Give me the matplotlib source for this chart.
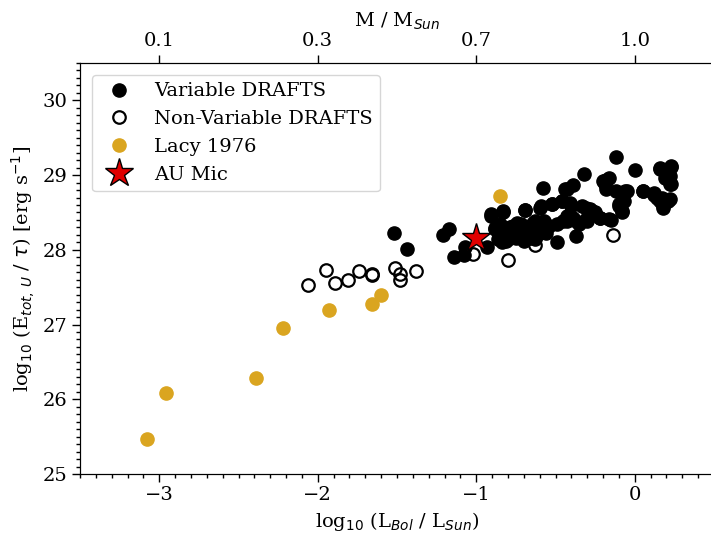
import matplotlib
matplotlib.use('Agg')
import matplotlib.pyplot as plt
from matplotlib.ticker import MultipleLocator
import numpy as np

# log10(L_bol/L_sun) and log10(E_tot,U / tau)
var_lbol = [-1.52, -1.44, -1.21, -1.17, -1.14, -1.08, -1.07, -0.93, -0.91, -0.83,
            -0.88, -0.84, -0.79, -0.74, -0.68, -0.69, -0.63, -0.58, -0.60, -0.57,
            -0.52, -0.49, -0.46, -0.43, -0.39, -0.40, -0.43, -0.32, -0.37, -0.31,
            -0.27, -0.30, -0.22, -0.20, -0.16, -0.18, -0.12, -0.06, -0.15, -0.10,
            -0.07, -0.08, -0.12, 0.00, 0.05, 0.12, 0.16, 0.23, 0.19, 0.23,
            0.16, 0.21, 0.18, 0.14,
            -0.88, -0.85, -0.81, -0.77, -0.72, -0.68, -0.64, -0.61, -0.57, -0.54,
            -0.49, -0.45, -0.43, -0.39, -0.37, -0.35, -0.30, -0.86, -0.79, -0.75,
            -0.68, -0.63, -0.56, -0.44, -0.18, -0.19, -0.05, -0.10, -0.08, 0.05,
            0.12, 0.17, 0.20, 0.22, 0.18, 0.16, 0.23, 0.22, 0.22, -0.91,
            -0.83, -0.69, -0.59, -0.52, -0.46, -0.41, -0.33, -0.28, -0.25, -0.22,
            -0.16, -0.81, -0.75, -0.70, -0.66, -0.61]
var_etot = [28.23, 28.01, 28.20, 28.28, 27.91, 27.93, 28.04, 28.04, 28.45, 28.51,
            28.29, 28.10, 28.30, 28.36, 28.28, 28.53, 28.38, 28.83, 28.56, 28.30,
            28.61, 28.10, 28.65, 28.81, 28.87, 28.59, 28.39, 29.01, 28.19, 28.56,
            28.52, 28.39, 28.43, 28.92, 28.96, 28.81, 28.79, 28.79, 28.40, 28.61,
            28.65, 28.50, 29.24, 29.07, 28.79, 28.74, 29.10, 29.11, 28.96, 28.88,
            28.65, 28.65, 28.56, 28.70,
            28.28, 28.34, 28.25, 28.32, 28.34, 28.30, 28.36, 28.28, 28.39, 28.32,
            28.34, 28.39, 28.45, 28.43, 28.39, 28.34, 28.43, 28.14, 28.16, 28.19,
            28.19, 28.14, 28.23, 28.81, 28.94, 28.88, 28.79, 28.59, 28.52, 28.79,
            28.76, 28.70, 28.65, 28.68, 28.59, 29.08, 29.12, 28.88, 28.99, 28.48,
            28.52, 28.53, 28.59, 28.61, 28.65, 28.63, 28.59, 28.54, 28.50, 28.43,
            28.41, 28.12, 28.16, 28.12, 28.16, 28.21]

nonvar_lbol = [-2.06, -1.95, -1.89, -1.81, -1.74, -1.66, -1.66, -1.51, -1.48, -1.48,
               -1.38, -0.80, -0.14, -0.63, -1.02]
nonvar_etot = [27.53, 27.73, 27.55, 27.60, 27.71, 27.68, 27.66, 27.76, 27.68, 27.60,
               27.71, 27.86, 28.20, 28.06, 27.94]

lacy_lbol = [-3.08, -2.96, -2.39, -2.22, -1.93, -1.66, -1.60, -0.85]
lacy_etot = [25.47, 26.09, 26.28, 26.95, 27.20, 27.27, 27.40, 28.72]

aumic_lbol = [-1.00]
aumic_etot = [28.16]

mass_ticks = [-3, -2, -1, 0]
mass_labels = ['0.1', '0.3', '0.7', '1.0']

plt.rcParams['font.family'] = 'DejaVu Serif'
plt.rcParams['font.size'] = 14

fig = plt.figure(figsize=(7.11, 5.37), dpi=100)
ax = fig.add_axes([80/711., 63/537., 634/711., 411/537.])

ax.plot(var_lbol, var_etot, 'o', color='k', ms=9.5, zorder=3, label='Variable DRAFTS')
ax.plot(nonvar_lbol, nonvar_etot, 'o', mfc='none', mec='k', mew=1.6, ms=9,
        zorder=2, label='Non-Variable DRAFTS')
ax.plot(lacy_lbol, lacy_etot, 'o', color='goldenrod', ms=9.5, zorder=4, label='Lacy 1976')
ax.plot(aumic_lbol, aumic_etot, '*', mfc='#e00000', mec='k', mew=1.0, ms=21,
        zorder=5, label='AU Mic')

ax.set_xlim(-3.5, 0.5)
ax.set_ylim(25, 30.5)
ax.xaxis.set_major_locator(MultipleLocator(1))
ax.xaxis.set_minor_locator(MultipleLocator(0.1))
ax.yaxis.set_major_locator(MultipleLocator(1))
ax.yaxis.set_minor_locator(MultipleLocator(0.1))
ax.tick_params(which='major', length=5.5, width=1.0)
ax.tick_params(which='minor', length=3, width=1.0)

ax.set_xlabel(r'log$_{10}$ (L$_{Bol}$ / L$_{Sun}$)')
ax.set_ylabel(r'log$_{10}$ (E$_{tot,\,U}$ / $\tau$) [erg s$^{-1}$]')

top = ax.twiny()
top.set_xlim(ax.get_xlim())
top.set_xticks(mass_ticks)
top.set_xticklabels(mass_labels)
top.tick_params(which='major', length=5.5, width=1.0)
top.set_xlabel(r'M / M$_{Sun}$')

ax.legend(loc='upper left', borderaxespad=0.6)

fig.savefig('out.png', dpi=100)
